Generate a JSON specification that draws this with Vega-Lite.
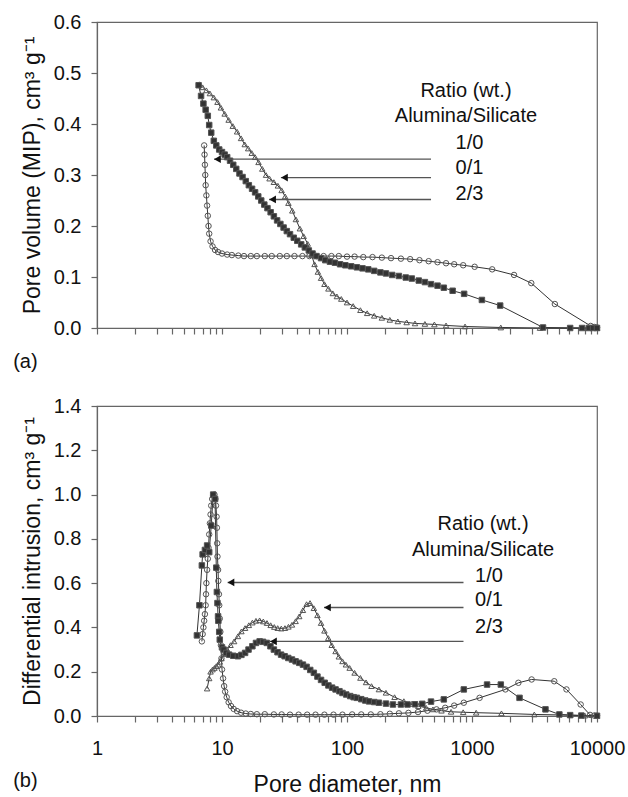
{
"$schema": "https://vega.github.io/schema/vega-lite/v6.json",
"padding": {"left": 12, "top": 11, "right": 2, "bottom": 0},
"background": "white",
"spacing": 22,
"config": {
  "font": "Liberation Sans",
  "view": {"stroke": "#666", "strokeWidth": 1.2},
  "axis": {"labelFont": "Liberation Sans", "titleFont": "Liberation Sans", "labelFontSize": 20, "titleFontSize": 23, "labelColor": "#111", "titleColor": "#111", "titleFontWeight": "normal", "domainColor": "#666", "tickColor": "#666", "tickSize": 6, "grid": false, "domainWidth": 1.2, "tickWidth": 1.2},
  "title": {"font": "Liberation Sans", "fontSize": 20, "fontWeight": "normal", "color": "#111"}
},
"datasets": {
  "top": [
    {"s":"1/0","d":7.2,"v":0.358},{"s":"1/0","d":7.25,"v":0.34},{"s":"1/0","d":7.3,"v":0.32},{"s":"1/0","d":7.35,"v":0.3},{"s":"1/0","d":7.4,"v":0.28},{"s":"1/0","d":7.5,"v":0.26},{"s":"1/0","d":7.6,"v":0.24},{"s":"1/0","d":7.7,"v":0.22},{"s":"1/0","d":7.8,"v":0.2},{"s":"1/0","d":7.9,"v":0.185},{"s":"1/0","d":8.1,"v":0.17},{"s":"1/0","d":8.4,"v":0.16},{"s":"1/0","d":8.8,"v":0.153},{"s":"1/0","d":9.3,"v":0.149},{"s":"1/0","d":10,"v":0.146},{"s":"1/0","d":11,"v":0.144},{"s":"1/0","d":12,"v":0.143},{"s":"1/0","d":13.5,"v":0.142},{"s":"1/0","d":15,"v":0.141},{"s":"1/0","d":17,"v":0.141},{"s":"1/0","d":19,"v":0.141},{"s":"1/0","d":22,"v":0.141},{"s":"1/0","d":25,"v":0.141},{"s":"1/0","d":29,"v":0.141},{"s":"1/0","d":33,"v":0.141},{"s":"1/0","d":38,"v":0.141},{"s":"1/0","d":44,"v":0.141},{"s":"1/0","d":50,"v":0.141},{"s":"1/0","d":57,"v":0.141},{"s":"1/0","d":65,"v":0.141},{"s":"1/0","d":75,"v":0.141},{"s":"1/0","d":86,"v":0.141},{"s":"1/0","d":100,"v":0.14},{"s":"1/0","d":115,"v":0.14},{"s":"1/0","d":135,"v":0.139},{"s":"1/0","d":160,"v":0.139},{"s":"1/0","d":190,"v":0.138},{"s":"1/0","d":225,"v":0.137},{"s":"1/0","d":270,"v":0.136},{"s":"1/0","d":320,"v":0.135},{"s":"1/0","d":380,"v":0.133},{"s":"1/0","d":450,"v":0.131},{"s":"1/0","d":530,"v":0.129},{"s":"1/0","d":620,"v":0.127},{"s":"1/0","d":720,"v":0.125},{"s":"1/0","d":850,"v":0.123},{"s":"1/0","d":1050,"v":0.12},{"s":"1/0","d":1450,"v":0.115},{"s":"1/0","d":2170,"v":0.104},{"s":"1/0","d":2980,"v":0.088},{"s":"1/0","d":4600,"v":0.047},{"s":"1/0","d":8900,"v":0.004},{"s":"1/0","d":9500,"v":0.002},{"s":"1/0","d":10000,"v":0.001},
    {"s":"0/1","d":6.6,"v":0.478},{"s":"0/1","d":7.0,"v":0.472},{"s":"0/1","d":7.5,"v":0.466},{"s":"0/1","d":8.0,"v":0.46},{"s":"0/1","d":8.6,"v":0.452},{"s":"0/1","d":9.2,"v":0.443},{"s":"0/1","d":9.8,"v":0.432},{"s":"0/1","d":10.5,"v":0.42},{"s":"0/1","d":11.3,"v":0.408},{"s":"0/1","d":12.2,"v":0.396},{"s":"0/1","d":13.2,"v":0.385},{"s":"0/1","d":14.2,"v":0.372},{"s":"0/1","d":15.2,"v":0.36},{"s":"0/1","d":16.2,"v":0.352},{"s":"0/1","d":17.3,"v":0.343},{"s":"0/1","d":18.4,"v":0.335},{"s":"0/1","d":19.6,"v":0.325},{"s":"0/1","d":21,"v":0.312},{"s":"0/1","d":22.5,"v":0.3},{"s":"0/1","d":24,"v":0.293},{"s":"0/1","d":26,"v":0.286},{"s":"0/1","d":28,"v":0.279},{"s":"0/1","d":30,"v":0.27},{"s":"0/1","d":32,"v":0.258},{"s":"0/1","d":34,"v":0.245},{"s":"0/1","d":36.5,"v":0.23},{"s":"0/1","d":39,"v":0.213},{"s":"0/1","d":42,"v":0.195},{"s":"0/1","d":45,"v":0.18},{"s":"0/1","d":48.5,"v":0.165},{"s":"0/1","d":52,"v":0.143},{"s":"0/1","d":55,"v":0.125},{"s":"0/1","d":58.5,"v":0.11},{"s":"0/1","d":62,"v":0.098},{"s":"0/1","d":66,"v":0.086},{"s":"0/1","d":71,"v":0.077},{"s":"0/1","d":77,"v":0.068},{"s":"0/1","d":83,"v":0.062},{"s":"0/1","d":90,"v":0.057},{"s":"0/1","d":100,"v":0.05},{"s":"0/1","d":112,"v":0.043},{"s":"0/1","d":128,"v":0.035},{"s":"0/1","d":145,"v":0.029},{"s":"0/1","d":165,"v":0.024},{"s":"0/1","d":190,"v":0.02},{"s":"0/1","d":220,"v":0.016},{"s":"0/1","d":255,"v":0.013},{"s":"0/1","d":300,"v":0.011},{"s":"0/1","d":350,"v":0.009},{"s":"0/1","d":420,"v":0.008},{"s":"0/1","d":500,"v":0.007},{"s":"0/1","d":620,"v":0.005},{"s":"0/1","d":880,"v":0.003},{"s":"0/1","d":1700,"v":0.001},{"s":"0/1","d":3500,"v":0},{"s":"0/1","d":10000,"v":0},
    {"s":"2/3","d":6.5,"v":0.476},{"s":"2/3","d":6.8,"v":0.455},{"s":"2/3","d":7.1,"v":0.44},{"s":"2/3","d":7.4,"v":0.428},{"s":"2/3","d":7.7,"v":0.416},{"s":"2/3","d":7.9,"v":0.398},{"s":"2/3","d":8.2,"v":0.383},{"s":"2/3","d":8.6,"v":0.367},{"s":"2/3","d":9.0,"v":0.358},{"s":"2/3","d":9.5,"v":0.35},{"s":"2/3","d":10,"v":0.345},{"s":"2/3","d":10.5,"v":0.34},{"s":"2/3","d":11,"v":0.335},{"s":"2/3","d":11.6,"v":0.328},{"s":"2/3","d":12.3,"v":0.32},{"s":"2/3","d":13,"v":0.312},{"s":"2/3","d":13.8,"v":0.303},{"s":"2/3","d":14.6,"v":0.296},{"s":"2/3","d":15.5,"v":0.288},{"s":"2/3","d":16.4,"v":0.28},{"s":"2/3","d":17.4,"v":0.273},{"s":"2/3","d":18.4,"v":0.266},{"s":"2/3","d":19.5,"v":0.258},{"s":"2/3","d":20.6,"v":0.25},{"s":"2/3","d":21.8,"v":0.242},{"s":"2/3","d":23.1,"v":0.235},{"s":"2/3","d":24.5,"v":0.227},{"s":"2/3","d":26,"v":0.219},{"s":"2/3","d":27.6,"v":0.211},{"s":"2/3","d":29.3,"v":0.204},{"s":"2/3","d":31.1,"v":0.197},{"s":"2/3","d":33,"v":0.19},{"s":"2/3","d":35,"v":0.184},{"s":"2/3","d":37.5,"v":0.177},{"s":"2/3","d":40,"v":0.171},{"s":"2/3","d":43,"v":0.164},{"s":"2/3","d":46,"v":0.158},{"s":"2/3","d":49.5,"v":0.152},{"s":"2/3","d":53,"v":0.146},{"s":"2/3","d":57,"v":0.141},{"s":"2/3","d":62,"v":0.137},{"s":"2/3","d":67,"v":0.133},{"s":"2/3","d":73,"v":0.13},{"s":"2/3","d":80,"v":0.128},{"s":"2/3","d":88,"v":0.125},{"s":"2/3","d":97,"v":0.123},{"s":"2/3","d":108,"v":0.121},{"s":"2/3","d":120,"v":0.119},{"s":"2/3","d":133,"v":0.117},{"s":"2/3","d":148,"v":0.115},{"s":"2/3","d":165,"v":0.112},{"s":"2/3","d":185,"v":0.109},{"s":"2/3","d":205,"v":0.107},{"s":"2/3","d":230,"v":0.104},{"s":"2/3","d":260,"v":0.102},{"s":"2/3","d":295,"v":0.099},{"s":"2/3","d":330,"v":0.097},{"s":"2/3","d":375,"v":0.093},{"s":"2/3","d":420,"v":0.09},{"s":"2/3","d":470,"v":0.086},{"s":"2/3","d":530,"v":0.083},{"s":"2/3","d":595,"v":0.079},{"s":"2/3","d":700,"v":0.073},{"s":"2/3","d":865,"v":0.067},{"s":"2/3","d":1200,"v":0.055},{"s":"2/3","d":1680,"v":0.044},{"s":"2/3","d":3700,"v":0.001},{"s":"2/3","d":6100,"v":0},{"s":"2/3","d":7600,"v":0},{"s":"2/3","d":8600,"v":0},{"s":"2/3","d":9300,"v":0},{"s":"2/3","d":10000,"v":0}
  ],
  "bot": [
    {"s":"1/0","d":6.9,"v":0.337},{"s":"1/0","d":7.0,"v":0.37},{"s":"1/0","d":7.1,"v":0.4},{"s":"1/0","d":7.2,"v":0.43},{"s":"1/0","d":7.3,"v":0.46},{"s":"1/0","d":7.4,"v":0.5},{"s":"1/0","d":7.45,"v":0.55},{"s":"1/0","d":7.5,"v":0.6},{"s":"1/0","d":7.6,"v":0.66},{"s":"1/0","d":7.7,"v":0.71},{"s":"1/0","d":7.8,"v":0.76},{"s":"1/0","d":7.9,"v":0.82},{"s":"1/0","d":8.0,"v":0.87},{"s":"1/0","d":8.1,"v":0.91},{"s":"1/0","d":8.2,"v":0.95},{"s":"1/0","d":8.35,"v":0.98},{"s":"1/0","d":8.5,"v":0.995},{"s":"1/0","d":8.7,"v":1.0},{"s":"1/0","d":8.85,"v":0.98},{"s":"1/0","d":8.95,"v":0.95},{"s":"1/0","d":9.05,"v":0.9},{"s":"1/0","d":9.1,"v":0.85},{"s":"1/0","d":9.15,"v":0.78},{"s":"1/0","d":9.2,"v":0.72},{"s":"1/0","d":9.3,"v":0.66},{"s":"1/0","d":9.35,"v":0.61},{"s":"1/0","d":9.45,"v":0.55},{"s":"1/0","d":9.5,"v":0.5},{"s":"1/0","d":9.6,"v":0.44},{"s":"1/0","d":9.7,"v":0.38},{"s":"1/0","d":9.8,"v":0.32},{"s":"1/0","d":9.9,"v":0.26},{"s":"1/0","d":10.0,"v":0.21},{"s":"1/0","d":10.2,"v":0.17},{"s":"1/0","d":10.4,"v":0.135},{"s":"1/0","d":10.6,"v":0.11},{"s":"1/0","d":10.9,"v":0.085},{"s":"1/0","d":11.3,"v":0.062},{"s":"1/0","d":11.8,"v":0.045},{"s":"1/0","d":12.4,"v":0.032},{"s":"1/0","d":13.2,"v":0.022},{"s":"1/0","d":14.2,"v":0.015},{"s":"1/0","d":15.5,"v":0.011},{"s":"1/0","d":17,"v":0.009},{"s":"1/0","d":19,"v":0.008},{"s":"1/0","d":22,"v":0.008},{"s":"1/0","d":26,"v":0.007},{"s":"1/0","d":30,"v":0.007},{"s":"1/0","d":35,"v":0.006},{"s":"1/0","d":41,"v":0.006},{"s":"1/0","d":48,"v":0.006},{"s":"1/0","d":56,"v":0.006},{"s":"1/0","d":66,"v":0.006},{"s":"1/0","d":78,"v":0.006},{"s":"1/0","d":92,"v":0.006},{"s":"1/0","d":110,"v":0.007},{"s":"1/0","d":130,"v":0.007},{"s":"1/0","d":155,"v":0.007},{"s":"1/0","d":185,"v":0.008},{"s":"1/0","d":220,"v":0.01},{"s":"1/0","d":260,"v":0.012},{"s":"1/0","d":310,"v":0.014},{"s":"1/0","d":370,"v":0.018},{"s":"1/0","d":440,"v":0.024},{"s":"1/0","d":520,"v":0.03},{"s":"1/0","d":610,"v":0.037},{"s":"1/0","d":720,"v":0.047},{"s":"1/0","d":860,"v":0.06},{"s":"1/0","d":1150,"v":0.082},{"s":"1/0","d":1850,"v":0.12},{"s":"1/0","d":2350,"v":0.15},{"s":"1/0","d":3000,"v":0.165},{"s":"1/0","d":4550,"v":0.157},{"s":"1/0","d":5700,"v":0.12},{"s":"1/0","d":7400,"v":0.052},{"s":"1/0","d":8800,"v":0.005},{"s":"1/0","d":9500,"v":0.002},{"s":"1/0","d":10000,"v":0.001},
    {"s":"0/1","d":7.6,"v":0.124},{"s":"0/1","d":7.9,"v":0.17},{"s":"0/1","d":8.1,"v":0.2},{"s":"0/1","d":8.4,"v":0.21},{"s":"0/1","d":8.7,"v":0.217},{"s":"0/1","d":9.0,"v":0.225},{"s":"0/1","d":9.3,"v":0.232},{"s":"0/1","d":9.6,"v":0.245},{"s":"0/1","d":9.9,"v":0.26},{"s":"0/1","d":10.4,"v":0.28},{"s":"0/1","d":11,"v":0.3},{"s":"0/1","d":11.7,"v":0.32},{"s":"0/1","d":12.5,"v":0.337},{"s":"0/1","d":13.4,"v":0.36},{"s":"0/1","d":14.3,"v":0.382},{"s":"0/1","d":15.3,"v":0.397},{"s":"0/1","d":16.4,"v":0.41},{"s":"0/1","d":17.5,"v":0.422},{"s":"0/1","d":18.7,"v":0.43},{"s":"0/1","d":20,"v":0.432},{"s":"0/1","d":21.4,"v":0.427},{"s":"0/1","d":22.9,"v":0.42},{"s":"0/1","d":24.5,"v":0.41},{"s":"0/1","d":26.2,"v":0.402},{"s":"0/1","d":27.9,"v":0.397},{"s":"0/1","d":29.8,"v":0.395},{"s":"0/1","d":31.9,"v":0.397},{"s":"0/1","d":34,"v":0.403},{"s":"0/1","d":36.3,"v":0.412},{"s":"0/1","d":38.8,"v":0.428},{"s":"0/1","d":41.5,"v":0.45},{"s":"0/1","d":44.4,"v":0.478},{"s":"0/1","d":47.5,"v":0.505},{"s":"0/1","d":50.6,"v":0.51},{"s":"0/1","d":54.3,"v":0.487},{"s":"0/1","d":58,"v":0.455},{"s":"0/1","d":62,"v":0.42},{"s":"0/1","d":66,"v":0.385},{"s":"0/1","d":70.8,"v":0.352},{"s":"0/1","d":75.5,"v":0.32},{"s":"0/1","d":81,"v":0.292},{"s":"0/1","d":86,"v":0.268},{"s":"0/1","d":92,"v":0.247},{"s":"0/1","d":98,"v":0.232},{"s":"0/1","d":105,"v":0.217},{"s":"0/1","d":115,"v":0.195},{"s":"0/1","d":128,"v":0.172},{"s":"0/1","d":142,"v":0.152},{"s":"0/1","d":157,"v":0.135},{"s":"0/1","d":180,"v":0.12},{"s":"0/1","d":205,"v":0.105},{"s":"0/1","d":240,"v":0.085},{"s":"0/1","d":285,"v":0.067},{"s":"0/1","d":330,"v":0.055},{"s":"0/1","d":372,"v":0.045},{"s":"0/1","d":430,"v":0.037},{"s":"0/1","d":487,"v":0.03},{"s":"0/1","d":570,"v":0.024},{"s":"0/1","d":680,"v":0.019},{"s":"0/1","d":850,"v":0.017},{"s":"0/1","d":1080,"v":0.015},{"s":"0/1","d":1720,"v":0.012},{"s":"0/1","d":3150,"v":0.007},{"s":"0/1","d":6100,"v":0.004},{"s":"0/1","d":8000,"v":0.002},{"s":"0/1","d":10000,"v":0.001},
    {"s":"2/3","d":6.3,"v":0.364},{"s":"2/3","d":6.6,"v":0.5},{"s":"2/3","d":6.9,"v":0.68},{"s":"2/3","d":7.0,"v":0.73},{"s":"2/3","d":7.3,"v":0.75},{"s":"2/3","d":7.6,"v":0.77},{"s":"2/3","d":7.9,"v":0.74},{"s":"2/3","d":8.2,"v":0.86},{"s":"2/3","d":8.5,"v":1.0},{"s":"2/3","d":8.8,"v":0.98},{"s":"2/3","d":9.0,"v":0.67},{"s":"2/3","d":9.1,"v":0.56},{"s":"2/3","d":9.2,"v":0.51},{"s":"2/3","d":9.3,"v":0.45},{"s":"2/3","d":9.35,"v":0.43},{"s":"2/3","d":9.5,"v":0.38},{"s":"2/3","d":9.6,"v":0.345},{"s":"2/3","d":10.0,"v":0.31},{"s":"2/3","d":10.3,"v":0.3},{"s":"2/3","d":10.8,"v":0.285},{"s":"2/3","d":11.4,"v":0.277},{"s":"2/3","d":12.3,"v":0.272},{"s":"2/3","d":13.4,"v":0.27},{"s":"2/3","d":14.3,"v":0.276},{"s":"2/3","d":15.3,"v":0.285},{"s":"2/3","d":16.3,"v":0.3},{"s":"2/3","d":17.5,"v":0.315},{"s":"2/3","d":18.7,"v":0.33},{"s":"2/3","d":20,"v":0.337},{"s":"2/3","d":21.3,"v":0.335},{"s":"2/3","d":22.8,"v":0.33},{"s":"2/3","d":24.4,"v":0.315},{"s":"2/3","d":26,"v":0.3},{"s":"2/3","d":27.8,"v":0.288},{"s":"2/3","d":29.7,"v":0.277},{"s":"2/3","d":31.7,"v":0.27},{"s":"2/3","d":33.9,"v":0.262},{"s":"2/3","d":36.3,"v":0.255},{"s":"2/3","d":38.8,"v":0.247},{"s":"2/3","d":41.5,"v":0.24},{"s":"2/3","d":44.4,"v":0.232},{"s":"2/3","d":47.5,"v":0.222},{"s":"2/3","d":50.8,"v":0.208},{"s":"2/3","d":54.3,"v":0.195},{"s":"2/3","d":58,"v":0.178},{"s":"2/3","d":62,"v":0.163},{"s":"2/3","d":66.3,"v":0.15},{"s":"2/3","d":71,"v":0.138},{"s":"2/3","d":76,"v":0.128},{"s":"2/3","d":81,"v":0.12},{"s":"2/3","d":87,"v":0.112},{"s":"2/3","d":92,"v":0.104},{"s":"2/3","d":98.6,"v":0.097},{"s":"2/3","d":106,"v":0.09},{"s":"2/3","d":113,"v":0.085},{"s":"2/3","d":120,"v":0.082},{"s":"2/3","d":130,"v":0.076},{"s":"2/3","d":140,"v":0.07},{"s":"2/3","d":150,"v":0.066},{"s":"2/3","d":165,"v":0.063},{"s":"2/3","d":180,"v":0.06},{"s":"2/3","d":205,"v":0.056},{"s":"2/3","d":233,"v":0.052},{"s":"2/3","d":270,"v":0.052},{"s":"2/3","d":305,"v":0.052},{"s":"2/3","d":350,"v":0.053},{"s":"2/3","d":400,"v":0.055},{"s":"2/3","d":470,"v":0.065},{"s":"2/3","d":595,"v":0.075},{"s":"2/3","d":860,"v":0.12},{"s":"2/3","d":1320,"v":0.142},{"s":"2/3","d":1700,"v":0.142},{"s":"2/3","d":2400,"v":0.082},{"s":"2/3","d":3870,"v":0.03},{"s":"2/3","d":5000,"v":0.007},{"s":"2/3","d":6100,"v":0.004},{"s":"2/3","d":7500,"v":0.002},{"s":"2/3","d":10000,"v":0.001}
  ],
  "topNotes": [
    {"d":895,"v":0.465,"t":"Ratio (wt.)"},{"d":895,"v":0.416,"t":"Alumina/Silicate"},{"d":955,"v":0.363,"t":"1/0"},{"d":955,"v":0.314,"t":"0/1"},{"d":955,"v":0.263,"t":"2/3"}
  ],
  "topArrows": [
    {"d":8.63,"d2":470,"v":0.331,"h":9.2},{"d":29.6,"d2":470,"v":0.295,"h":31.6},{"d":23.8,"d2":470,"v":0.252,"h":25.4}
  ],
  "botNotes": [
    {"d":1225,"v":0.867,"t":"Ratio (wt.)"},{"d":1225,"v":0.75,"t":"Alumina/Silicate"},{"d":1368,"v":0.632,"t":"1/0"},{"d":1368,"v":0.524,"t":"0/1"},{"d":1368,"v":0.402,"t":"2/3"}
  ],
  "botArrows": [
    {"d":11.1,"d2":855,"v":0.603,"h":11.8},{"d":65.5,"d2":855,"v":0.49,"h":69.8},{"d":24.2,"d2":855,"v":0.337,"h":25.8}
  ]
},
"vconcat": [
  {
    "width": 500, "height": 306,
    "title": {"text": "(a)", "orient": "bottom", "anchor": "start", "frame": "bounds", "dx": -8, "offset": 14},
    "encoding": {
      "x": {"field": "d", "type": "quantitative", "scale": {"type": "log", "domain": [1, 10000]},
            "axis": {"values": [1,2,3,4,5,6,7,8,9,10,20,30,40,50,60,70,80,90,100,200,300,400,500,600,700,800,900,1000,2000,3000,4000,5000,6000,7000,8000,9000,10000], "labels": false, "title": null}},
      "y": {"field": "v", "type": "quantitative", "scale": {"domain": [0, 0.6]},
            "axis": {"values": [0,0.1,0.2,0.3,0.4,0.5,0.6], "format": ".1f", "labelPadding": 10, "titlePadding": 9, "title": "Pore volume (MIP), cm³ g⁻¹"}}
    },
    "layer": [
      {"data": {"name": "top"},
       "mark": {"type": "line", "color": "#333", "strokeWidth": 1},
       "encoding": {"detail": {"field": "s"}}},
      {"data": {"name": "top"},
       "mark": {"type": "point", "filled": true, "stroke": "#555", "strokeWidth": 1, "size": 30, "opacity": 1},
       "encoding": {
         "shape": {"field": "s", "type": "nominal", "scale": {"domain": ["1/0","0/1","2/3"], "range": ["circle","triangle-up","square"]}, "legend": null},
         "fill": {"field": "s", "type": "nominal", "scale": {"domain": ["1/0","0/1","2/3"], "range": ["transparent","transparent","#333"]}, "legend": null}
       }},
      {"data": {"name": "topArrows"},
       "mark": {"type": "rule", "color": "#555", "strokeWidth": 1.3},
       "encoding": {"x2": {"field": "d2"}}},
      {"data": {"name": "topArrows"},
       "mark": {"type": "point", "shape": "triangle-left", "filled": true, "color": "#111", "size": 60, "opacity": 1},
       "encoding": {"x": {"field": "h", "type": "quantitative", "title": null}}},
      {"data": {"name": "topNotes"},
       "mark": {"type": "text", "fontSize": 20, "font": "Liberation Sans", "color": "#111", "align": "center", "baseline": "middle"},
       "encoding": {"text": {"field": "t"}}}
    ]
  },
  {
    "width": 500, "height": 310,
    "title": {"text": "(b)", "orient": "bottom", "anchor": "start", "frame": "bounds", "dx": -8, "dy": -25, "offset": 0},
    "encoding": {
      "x": {"field": "d", "type": "quantitative", "scale": {"type": "log", "domain": [1, 10000]},
            "axis": {"values": [1,2,3,4,5,6,7,8,9,10,20,30,40,50,60,70,80,90,100,200,300,400,500,600,700,800,900,1000,2000,3000,4000,5000,6000,7000,8000,9000,10000], "format": "d", "labelExpr": "indexof(['1','10','100','1000','10000'], datum.label) >= 0 ? datum.label : ''", "labelOverlap": false, "labelFlush": false, "labelBound": false, "labelPadding": 16, "titlePadding": 15, "title": "Pore diameter, nm"}},
      "y": {"field": "v", "type": "quantitative", "scale": {"domain": [0, 1.4]},
            "axis": {"values": [0,0.2,0.4,0.6,0.8,1.0,1.2,1.4], "format": ".1f", "labelPadding": 10, "titlePadding": 9, "title": "Differential intrusion, cm³ g⁻¹"}}
    },
    "layer": [
      {"data": {"name": "bot"},
       "mark": {"type": "line", "color": "#333", "strokeWidth": 1},
       "encoding": {"detail": {"field": "s"}}},
      {"data": {"name": "bot"},
       "mark": {"type": "point", "filled": true, "stroke": "#555", "strokeWidth": 1, "size": 30, "opacity": 1},
       "encoding": {
         "shape": {"field": "s", "type": "nominal", "scale": {"domain": ["1/0","0/1","2/3"], "range": ["circle","triangle-up","square"]}, "legend": null},
         "fill": {"field": "s", "type": "nominal", "scale": {"domain": ["1/0","0/1","2/3"], "range": ["transparent","transparent","#333"]}, "legend": null}
       }},
      {"data": {"name": "botArrows"},
       "mark": {"type": "rule", "color": "#555", "strokeWidth": 1.3},
       "encoding": {"x2": {"field": "d2"}}},
      {"data": {"name": "botArrows"},
       "mark": {"type": "point", "shape": "triangle-left", "filled": true, "color": "#111", "size": 60, "opacity": 1},
       "encoding": {"x": {"field": "h", "type": "quantitative", "title": null}}},
      {"data": {"name": "botNotes"},
       "mark": {"type": "text", "fontSize": 20, "font": "Liberation Sans", "color": "#111", "align": "center", "baseline": "middle"},
       "encoding": {"text": {"field": "t"}}}
    ]
  }
]
}
